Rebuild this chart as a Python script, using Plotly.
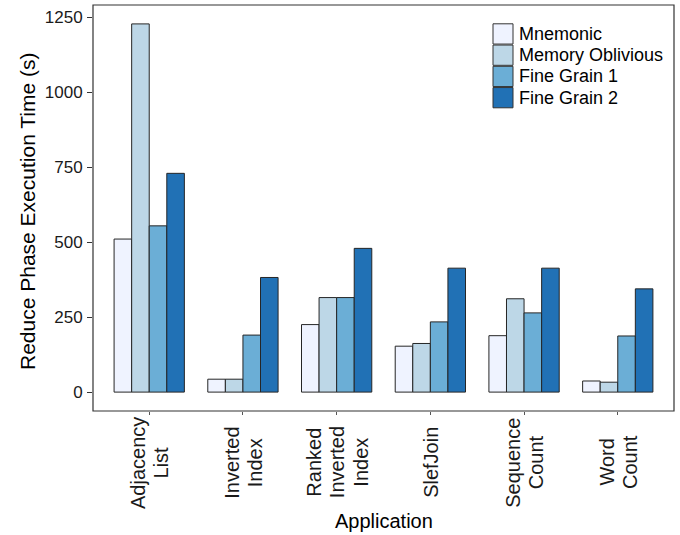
import plotly.graph_objects as go

# ---- data ----
applications = ["Adjacency<br>List", "Inverted<br>Index", "Ranked<br>Inverted<br>Index",
                "SlefJoin", "Sequence<br>Count", "Word<br>Count"]
series_names = ["Mnemonic", "Memory Oblivious", "Fine Grain 1", "Fine Grain 2"]
mnemonic = [510, 43, 225, 153, 188, 37]
memory_oblivious = [1227, 43, 315, 162, 311, 33]
fine_grain_1 = [554, 190, 315, 234, 264, 187]
fine_grain_2 = [729, 382, 479, 413, 413, 344]
series_values = [mnemonic, memory_oblivious, fine_grain_1, fine_grain_2]
colors = ["#EFF3FF", "#BDD7E7", "#6BAED6", "#2171B5"]
y_ticks = [0, 250, 500, 750, 1000, 1250]
x_title = "Application"
y_title = "Reduce Phase Execution Time (s)"

W, H = 680, 535
ML, MR, MT, MB = 93, 6, 5, 124
FONT = "Liberation Sans, Arial, sans-serif"

fig = go.Figure()
for name, vals, col in zip(series_names, series_values, colors):
    fig.add_trace(go.Bar(
        x=applications, y=vals, name=name,
        marker=dict(color=col, line=dict(color="#262626", width=1)),
        showlegend=False,
    ))

# panel pixel -> paper helpers for layout decorations
pw, ph = W - ML - MR, H - MT - MB
def px_x(x):
    return (x - ML) / pw
def px_y(y):
    return (H - MB - y) / ph

shapes = [dict(type="rect", xref="paper", yref="paper", x0=0, x1=1, y0=0, y1=1,
               line=dict(color="#333333", width=1.2), fillcolor="rgba(0,0,0,0)", layer="above")]
annotations = []

# custom legend (large square keys like the reference)
row_h = 21.25
top0 = 23.3
for i, (name, col) in enumerate(zip(series_names, colors)):
    t = top0 + i * row_h
    shapes.append(dict(type="rect", xref="paper", yref="paper",
                       x0=px_x(493), x1=px_x(513), y0=px_y(t + row_h - 0.5), y1=px_y(t + 0.5),
                       fillcolor=col, line=dict(color="#333333", width=1)))
    annotations.append(dict(xref="paper", yref="paper", x=px_x(517), y=px_y(t + row_h / 2),
                            text=name, showarrow=False, xanchor="left", yanchor="middle",
                            font=dict(size=18, color="black", family=FONT)))

# category labels: rotated, lines centred on each other and on the tick
line_gap = 23.5
for cat in applications:
    lines = cat.split("<br>")
    n = len(lines)
    for j, ln in enumerate(lines):
        annotations.append(dict(xref="x", yref="paper", x=cat, y=px_y(462.5),
                                xshift=(j - (n - 1) / 2) * line_gap,
                                text=ln, textangle=-90, showarrow=False,
                                xanchor="center", yanchor="middle",
                                font=dict(size=20, color="#1a1a1a", family=FONT)))

# axis titles
annotations.append(dict(xref="paper", yref="paper", x=px_x(384), y=px_y(521),
                        text=x_title, showarrow=False, xanchor="center", yanchor="middle",
                        font=dict(size=20, color="black", family=FONT)))
annotations.append(dict(xref="paper", yref="paper", x=px_x(27), y=px_y(212),
                        text=y_title, showarrow=False, textangle=-90,
                        xanchor="center", yanchor="middle",
                        font=dict(size=21, color="black", family=FONT)))

fig.update_layout(
    width=W, height=H,
    margin=dict(l=ML, r=MR, t=MT, b=MB),
    paper_bgcolor="white", plot_bgcolor="white",
    barmode="group", bargap=0.25, bargroupgap=0,
    font=dict(family=FONT, size=18, color="black"),
    shapes=shapes, annotations=annotations,
    xaxis=dict(
        type="category", range=[-0.6, 5.6],
        showticklabels=False, ticks="outside", ticklen=3, tickcolor="#555555",
        showgrid=False, zeroline=False, showline=False,
        automargin=False,
    ),
    yaxis=dict(
        range=[-63, 1290], tickvals=y_ticks, ticktext=[str(v) for v in y_ticks],
        ticks="outside", ticklen=5, tickcolor="#333333", ticklabelstandoff=1,
        tickfont=dict(size=17, color="#1a1a1a"),
        showgrid=False, zeroline=False, showline=False,
        automargin=False,
    ),
)

fig.write_html("out.html", config={"displayModeBar": False},
               post_script="document.body.style.margin='0';document.body.style.overflow='hidden';")
